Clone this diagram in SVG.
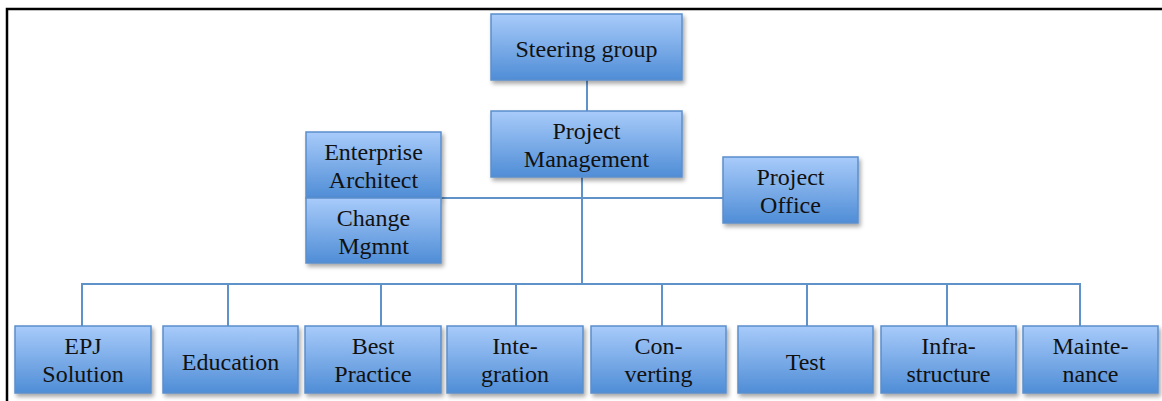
<svg xmlns="http://www.w3.org/2000/svg" width="1162" height="401" viewBox="0 0 1162 401">
<defs>
<linearGradient id="g" x1="0" y1="0" x2="0" y2="1">
<stop offset="0" stop-color="#a8cbfa"/>
<stop offset="1" stop-color="#4f8dd6"/>
</linearGradient>
<filter id="sh" x="-10%" y="-10%" width="125%" height="135%">
<feDropShadow dx="2" dy="3" stdDeviation="2" flood-color="#000" flood-opacity="0.35"/>
</filter>
</defs>
<style>
.box{fill:url(#g);stroke:#5b8fcb;stroke-width:1.5;filter:url(#sh)}
.t{font-family:"Liberation Serif","Times New Roman",Times,serif;font-size:24px;fill:#111;text-anchor:middle}
.c{fill:none;stroke:#5f92c8;stroke-width:2}
.frame{fill:none;stroke:#000;stroke-width:2.5}
</style>
<rect width="1162" height="401" fill="#fff"/>
<path class="frame" d="M7,401 V9 H1162"/>
<g id="connectors">
<path class="c" d="M587,80 V111"/>
<path class="c" d="M582,177 V284"/>
<path class="c" d="M441,198 H723"/>
<path class="c" d="M82,326 V284 H1080 V326"/>
<path class="c" d="M228,284 V326 M381,284 V326 M516,284 V326 M662,284 V326 M807,284 V326 M947,284 V326"/>
</g>
<g id="steering"><rect class="box" x="491" y="14" width="191" height="66"/><text class="t" x="586.5" y="57">Steering group</text></g>
<g id="pm"><rect class="box" x="491" y="111" width="191" height="66"/><text class="t" x="586.5" y="139">Project</text><text class="t" x="586.5" y="167">Management</text></g>
<g id="ea"><rect class="box" x="306" y="132" width="135" height="66"/><text class="t" x="373.5" y="160">Enterprise</text><text class="t" x="373.5" y="188">Architect</text></g>
<g id="cm"><rect class="box" x="306" y="198" width="135" height="65"/><text class="t" x="373.5" y="226">Change</text><text class="t" x="373.5" y="254">Mgmnt</text></g>
<g id="po"><rect class="box" x="723" y="157" width="135" height="66"/><text class="t" x="790.5" y="185">Project</text><text class="t" x="790.5" y="213">Office</text></g>
<g id="epj"><rect class="box" x="15" y="326" width="136" height="67"/><text class="t" x="83" y="354">EPJ</text><text class="t" x="83" y="382">Solution</text></g>
<g id="edu"><rect class="box" x="163" y="326" width="135" height="67"/><text class="t" x="230.5" y="370">Education</text></g>
<g id="best"><rect class="box" x="305" y="326" width="136" height="67"/><text class="t" x="373" y="354">Best</text><text class="t" x="373" y="382">Practice</text></g>
<g id="int"><rect class="box" x="447" y="326" width="136" height="67"/><text class="t" x="515" y="354">Inte-</text><text class="t" x="515" y="382">gration</text></g>
<g id="conv"><rect class="box" x="591" y="326" width="135" height="67"/><text class="t" x="658.5" y="354">Con-</text><text class="t" x="658.5" y="382">verting</text></g>
<g id="test"><rect class="box" x="738" y="326" width="135" height="67"/><text class="t" x="805.5" y="370">Test</text></g>
<g id="infra"><rect class="box" x="881" y="326" width="135" height="67"/><text class="t" x="948.5" y="354">Infra-</text><text class="t" x="948.5" y="382">structure</text></g>
<g id="maint"><rect class="box" x="1023" y="326" width="135" height="67"/><text class="t" x="1090.5" y="354">Mainte-</text><text class="t" x="1090.5" y="382">nance</text></g>
</svg>
